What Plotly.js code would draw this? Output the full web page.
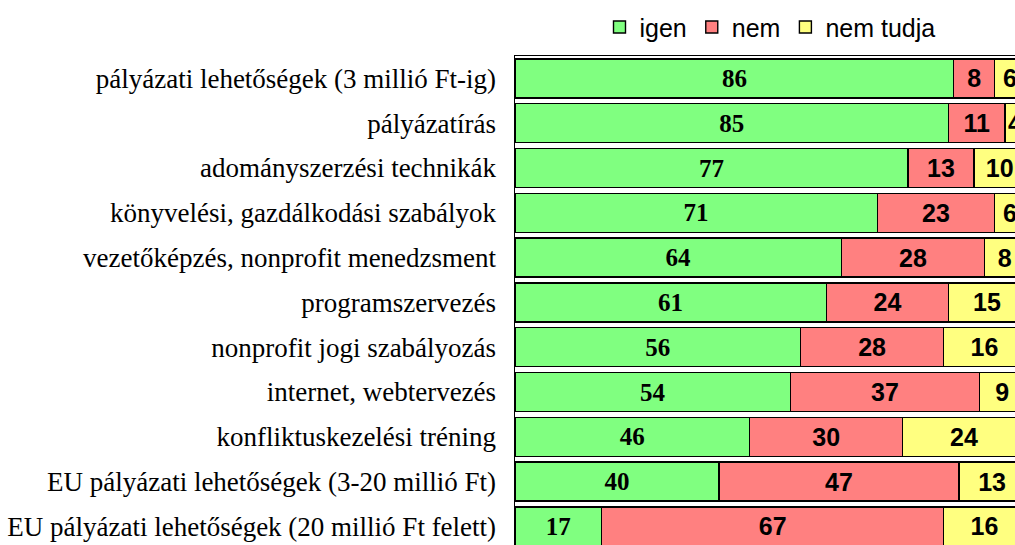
<!DOCTYPE html>
<html>
<head>
<meta charset="utf-8">
<script src="https://cdn.plot.ly/plotly-3.0.1.min.js"></script>
<style>
  html, body { margin: 0; padding: 0; background: #fff; }
  #chart { width: 1015px; height: 545px; }
</style>
</head>
<body>
<div id="chart"></div>
<script>
const topics = [
  "pályázati lehetőségek (3 millió Ft-ig)",
  "pályázatírás",
  "adományszerzési technikák",
  "könyvelési, gazdálkodási szabályok",
  "vezetőképzés, nonprofit menedzsment",
  "programszervezés",
  "nonprofit jogi szabályozás",
  "internet, webtervezés",
  "konfliktuskezelési tréning",
  "EU pályázati lehetőségek (3-20 millió Ft)",
  "EU pályázati lehetőségek (20 millió Ft felett)",
];
const igen = [86, 85, 77, 71, 64, 61, 56, 54, 46, 40, 17];
const nem = [8, 11, 13, 23, 28, 24, 28, 37, 30, 47, 67];
const nemTudja = [6, 4, 10, 6, 8, 15, 16, 9, 24, 13, 16];

const SERIF = "Liberation Serif, Times New Roman, serif";
const SANS = "Liberation Sans, Arial, sans-serif";

const SERIES = [
  { name: "igen", values: igen, color: "#80ff80", family: SERIF },
  { name: "nem", values: nem, color: "#ff8080", family: SANS },
  { name: "nem tudja", values: nemTudja, color: "#ffff80", family: SANS },
];

const traces = SERIES.map((s) => ({
  type: "bar",
  orientation: "h",
  name: s.name,
  x: s.values,
  y: topics,
  text: s.values.map(String),
  textposition: "inside",
  insidetextanchor: "middle",
  constraintext: "none",
  cliponaxis: true,
  textfont: { family: s.family, size: 25, color: "#000", weight: "bold" },
  marker: { color: s.color, line: { color: "#000", width: 1.4 } },
  hoverinfo: "skip",
}));

const layout = {
  width: 1015,
  height: 545,
  paper_bgcolor: "#fff",
  plot_bgcolor: "#fff",
  margin: { l: 515, r: 0, t: 56, b: 0, pad: 0 },
  barmode: "stack",
  bargap: 0.13,
  showlegend: true,
  legend: {
    orientation: "h",
    traceorder: "normal",
    x: 0.51,
    xanchor: "center",
    yref: "container",
    y: 0.95,
    yanchor: "middle",
    font: { family: SANS, size: 25, color: "#000" },
    itemwidth: 30,
    bgcolor: "rgba(0,0,0,0)",
  },
  xaxis: {
    range: [0, 98],
    side: "top",
    showline: true,
    linecolor: "#000",
    linewidth: 1.5,
    showgrid: false,
    zeroline: false,
    showticklabels: false,
    ticks: "",
    fixedrange: true,
  },
  yaxis: {
    type: "category",
    categoryorder: "array",
    categoryarray: topics,
    range: [10.415, -0.5],
    showline: true,
    linecolor: "#000",
    linewidth: 1.5,
    showgrid: false,
    ticks: "",
    ticklabelstandoff: 12,
    tickfont: { family: SERIF, size: 27, color: "#000" },
    fixedrange: true,
  },
};

Plotly.newPlot("chart", traces, layout, { displayModeBar: false, staticPlot: true });
</script>
</body>
</html>
